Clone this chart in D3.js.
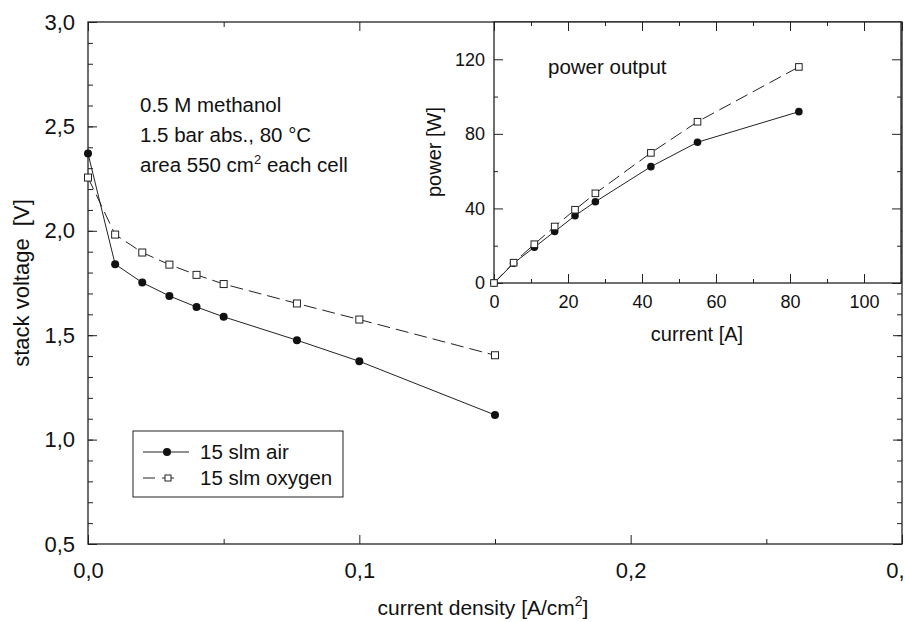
<!DOCTYPE html>
<html><head><meta charset="utf-8">
<script src="https://cdn.jsdelivr.net/npm/d3@7/dist/d3.min.js"></script>
<style>
html,body{margin:0;padding:0;background:#fff;}
svg{display:block;}
text{font-family:"Liberation Sans",Arial,sans-serif;fill:#111;}
</style></head>
<body>
<svg id="chart" width="905" height="622"></svg>
<script>
// ---- data ----
const currentDensity = [0, 0.01, 0.02, 0.03, 0.04, 0.05, 0.077, 0.1, 0.15];   // A/cm2
const voltageAir     = [2.37, 1.84, 1.752, 1.688, 1.635, 1.588, 1.476, 1.375, 1.118];
const voltageOxygen  = [2.255, 1.982, 1.896, 1.838, 1.789, 1.745, 1.652, 1.575, 1.404];
const current        = [0, 5.3, 10.9, 16.4, 21.9, 27.4, 42.4, 55.0, 82.4];     // A
const powerAir       = [0, 10.6, 19.2, 27.6, 36.1, 43.6, 62.4, 75.5, 91.9];     // W
const powerOxygen    = [0, 10.9, 20.8, 30.3, 39.3, 48.1, 69.8, 86.5, 115.9];    // W
const seriesNames    = ["15 slm air", "15 slm oxygen"];
const mainXTicks = [0, 0.1, 0.2, 0.3];
const mainXLabels = ["0,0", "0,1", "0,2", "0,"];   // last label is cut at the page edge in the original
const mainYTicks = [0.5, 1.0, 1.5, 2.0, 2.5, 3.0];
const insetXTicks = [0, 20, 40, 60, 80, 100];
const insetYTicks = [0, 40, 80, 120];
const notes = ["0.5 M methanol", "1.5 bar abs., 80 °C"];

const svg = d3.select("#chart");
const fmtComma = d => d3.format(".1f")(d).replace(".", ",");

// ---- main scales ----
const L = 88, R = 902, T = 22, B = 544;
const x = d3.scaleLinear().domain([0, 0.3]).range([L, R]);
const y = d3.scaleLinear().domain([0.5, 3.0]).range([B, T]);

const main = svg.append("g");
const axStyle = g => { g.select(".domain").remove(); g.selectAll("line").attr("stroke", "#222").attr("stroke-width", 1); };

// minor ticks
main.append("g").attr("transform", `translate(${L},0)`)
  .call(d3.axisLeft(y).tickValues(d3.range(0.6, 3.0, 0.1)).tickSize(-5).tickFormat("")).call(axStyle);
main.append("g").attr("transform", `translate(${R},0)`)
  .call(d3.axisRight(y).tickValues(d3.range(0.6, 3.0, 0.1)).tickSize(-5).tickFormat("")).call(axStyle);
main.append("g").attr("transform", `translate(0,${B})`)
  .call(d3.axisBottom(x).tickValues([0.05, 0.15, 0.25]).tickSize(-5).tickFormat("")).call(axStyle);
main.append("g").attr("transform", `translate(0,${T})`)
  .call(d3.axisTop(x).tickValues([0.05, 0.15, 0.25]).tickSize(-5).tickFormat("")).call(axStyle);
// major ticks
const yl = main.append("g").attr("transform", `translate(${L},0)`)
  .call(d3.axisLeft(y).tickValues(mainYTicks).tickSize(-9).tickPadding(13).tickFormat(fmtComma)).call(axStyle);
yl.selectAll("text").attr("font-size", 22).attr("fill", "#111").attr("font-family", "Liberation Sans, Arial, sans-serif");
main.append("g").attr("transform", `translate(${R},0)`)
  .call(d3.axisRight(y).tickValues(mainYTicks).tickSize(-9).tickFormat("")).call(axStyle);
const xl = main.append("g").attr("transform", `translate(0,${B})`)
  .call(d3.axisBottom(x).tickValues(mainXTicks).tickSize(-9).tickPadding(18)
    .tickFormat((d, i) => mainXLabels[i])).call(axStyle);
xl.selectAll("text").attr("font-size", 22).attr("fill", "#111").attr("font-family", "Liberation Sans, Arial, sans-serif")
  .filter((d, i) => i === mainXTicks.length - 1).attr("text-anchor", "end").attr("dx", 2);
main.append("g").attr("transform", `translate(0,${T})`)
  .call(d3.axisTop(x).tickValues(mainXTicks).tickSize(-9).tickFormat("")).call(axStyle);
// frame
main.append("rect").attr("x", L).attr("y", T).attr("width", R - L).attr("height", B - T)
  .attr("fill", "none").attr("stroke", "#222").attr("stroke-width", 1.3);

// main series
const mainLine = (vals) => d3.line().x((d, i) => x(currentDensity[i])).y(d => y(d))(vals);
main.append("path").attr("d", mainLine(voltageOxygen)).attr("fill", "none").attr("stroke", "#222")
  .attr("stroke-width", 1).attr("stroke-dasharray", "13,6");
main.append("path").attr("d", mainLine(voltageAir)).attr("fill", "none").attr("stroke", "#222").attr("stroke-width", 1);
main.selectAll(".ox").data(voltageOxygen).enter().append("rect")
  .attr("x", (d, i) => x(currentDensity[i]) - 3.5).attr("y", d => y(d) - 3.5)
  .attr("width", 7).attr("height", 7).attr("fill", "#fff").attr("stroke", "#222").attr("stroke-width", 1);
main.selectAll(".air").data(voltageAir).enter().append("circle")
  .attr("cx", (d, i) => x(currentDensity[i])).attr("cy", d => y(d)).attr("r", 4).attr("fill", "#111");

// axis titles
svg.append("text").attr("transform", "translate(29,283) rotate(-90)").attr("text-anchor", "middle")
  .attr("font-size", 22).style("white-space", "pre").text("stack voltage  [V]");
const xt = svg.append("text").attr("x", 483).attr("y", 615).attr("text-anchor", "middle").attr("font-size", 21);
xt.append("tspan").text("current density [A/cm");
xt.append("tspan").attr("font-size", 14).attr("dy", -9).text("2");
xt.append("tspan").attr("dy", 9).text("]");

// notes
notes.forEach((t, i) => svg.append("text").attr("x", 140).attr("y", 112 + i * 30).attr("font-size", 20.5).text(t));
const n3 = svg.append("text").attr("x", 140).attr("y", 172).attr("font-size", 20.5);
n3.append("tspan").text("area 550 cm");
n3.append("tspan").attr("font-size", 13).attr("dy", -8).text("2");
n3.append("tspan").attr("dy", 8).text(" each cell");

// legend
const lg = svg.append("g");
lg.append("rect").attr("x", 133).attr("y", 431).attr("width", 210).attr("height", 66)
  .attr("fill", "#fff").attr("stroke", "#222").attr("stroke-width", 1);
lg.append("line").attr("x1", 143).attr("x2", 189).attr("y1", 452).attr("y2", 452).attr("stroke", "#222");
lg.append("circle").attr("cx", 167).attr("cy", 452).attr("r", 4).attr("fill", "#111");
lg.append("line").attr("x1", 143).attr("x2", 175).attr("y1", 478).attr("y2", 478).attr("stroke", "#222").attr("stroke-dasharray", "12,7");
lg.append("rect").attr("x", 165).attr("y", 475).attr("width", 6).attr("height", 6).attr("fill", "#fff").attr("stroke", "#222");
seriesNames.forEach((s, i) => lg.append("text").attr("x", 200).attr("y", 459 + i * 26).attr("font-size", 20.5).text(s));

// ---- inset ----
const iL = 494, iR = 901, iT = 22, iB = 283;
const ix = d3.scaleLinear().domain([0, 110]).range([iL, iL + 3.7 * 110]);
const iy = d3.scaleLinear().domain([0, 140]).range([iB, iT]);
const ins = svg.append("g");
ins.append("rect").attr("x", iL).attr("y", iT).attr("width", iR - iL).attr("height", iB - iT).attr("fill", "#fff");
// minor ticks
ins.append("g").attr("transform", `translate(0,${iB})`)
  .call(d3.axisBottom(ix).tickValues([10, 30, 50, 70, 90, 110]).tickSize(-4).tickFormat("")).call(axStyle);
ins.append("g").attr("transform", `translate(0,${iT})`)
  .call(d3.axisTop(ix).tickValues([10, 30, 50, 70, 90]).tickSize(-4).tickFormat("")).call(axStyle);
ins.append("g").attr("transform", `translate(${iL},0)`)
  .call(d3.axisLeft(iy).tickValues([20, 60, 100]).tickSize(-4).tickFormat("")).call(axStyle);
ins.append("g").attr("transform", `translate(${iR},0)`)
  .call(d3.axisRight(iy).tickValues([20, 60, 100]).tickSize(-4).tickFormat("")).call(axStyle);
// major ticks
const ixl = ins.append("g").attr("transform", `translate(0,${iB})`)
  .call(d3.axisBottom(ix).tickValues(insetXTicks).tickSize(-9).tickPadding(12).tickFormat(d3.format("d"))).call(axStyle);
ixl.selectAll("text").attr("font-size", 18).attr("fill", "#111").attr("font-family", "Liberation Sans, Arial, sans-serif");
ins.append("g").attr("transform", `translate(0,${iT})`)
  .call(d3.axisTop(ix).tickValues(insetXTicks).tickSize(-9).tickFormat("")).call(axStyle);
const iyl = ins.append("g").attr("transform", `translate(${iL},0)`)
  .call(d3.axisLeft(iy).tickValues(insetYTicks).tickSize(-9).tickPadding(9).tickFormat(d3.format("d"))).call(axStyle);
iyl.selectAll("text").attr("font-size", 18).attr("fill", "#111").attr("font-family", "Liberation Sans, Arial, sans-serif");
ins.append("g").attr("transform", `translate(${iR},0)`)
  .call(d3.axisRight(iy).tickValues(insetYTicks).tickSize(-9).tickFormat("")).call(axStyle);
ins.append("rect").attr("x", iL).attr("y", iT).attr("width", iR - iL).attr("height", iB - iT)
  .attr("fill", "none").attr("stroke", "#222").attr("stroke-width", 1.3);

const insLine = vals => d3.line().x((d, i) => ix(current[i])).y(d => iy(d))(vals);
ins.append("path").attr("d", insLine(powerOxygen)).attr("fill", "none").attr("stroke", "#222")
  .attr("stroke-width", 1).attr("stroke-dasharray", "13,6");
ins.append("path").attr("d", insLine(powerAir)).attr("fill", "none").attr("stroke", "#222").attr("stroke-width", 1);
ins.selectAll(".iair").data(powerAir).enter().append("circle")
  .attr("cx", (d, i) => ix(current[i])).attr("cy", d => iy(d)).attr("r", 3.8).attr("fill", "#111");
ins.selectAll(".iox").data(powerOxygen).enter().append("rect")
  .attr("x", (d, i) => ix(current[i]) - 3.3).attr("y", d => iy(d) - 3.3)
  .attr("width", 6.6).attr("height", 6.6).attr("fill", "#fff").attr("stroke", "#222").attr("stroke-width", 1);

svg.append("text").attr("x", 548).attr("y", 74).attr("font-size", 20.5).text("power output");
svg.append("text").attr("transform", "translate(441,152) rotate(-90)").attr("text-anchor", "middle")
  .attr("font-size", 20).text("power [W]");
svg.append("text").attr("x", 697).attr("y", 341).attr("text-anchor", "middle").attr("font-size", 20).text("current [A]");
</script>
</body></html>
